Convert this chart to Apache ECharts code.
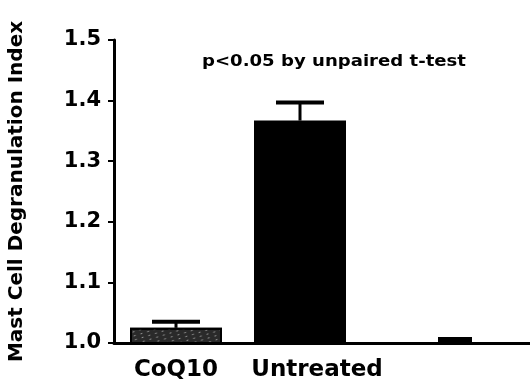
<!DOCTYPE html>
<html>
<head>
<meta charset="utf-8">
<script src="https://cdn.jsdelivr.net/npm/echarts@6/dist/echarts.min.js"></script>
<style>
  html, body { margin: 0; padding: 0; background: #fff; }
  #chart { width: 530px; height: 387px; }
</style>
</head>
<body>
<div id="chart"></div>
<script>
// Groups on the x axis and their mean degranulation index
const categories = ['CoQ10', 'Untreated', '', ''];
const meanValues = [1.025, 1.367, null, null];
// Upper end of each error bar (mean + SEM)
const errorTops = [1.035, 1.397, null, null];
// Small trailing mark near the axis on the half-band scale
const halfSlots = ['', '', '', '', '', 'x', '', ''];
const trailingValues = [null, null, null, null, null, 1.01, null, null];
const yTicks = { min: 1.0, max: 1.5, step: 0.1 };

const FONT = 'DejaVu Sans';
const chart = echarts.init(document.getElementById('chart'));

chart.setOption({
  animation: false,
  backgroundColor: '#ffffff',
  grid: { left: 114, top: 40, bottom: 44, width: 496, containLabel: false, outerBoundsMode: 'none' },
  xAxis: [
    {
      type: 'category',
      data: categories.map((c, i) => i === 1
        ? { value: c, textStyle: { padding: [0, 0, 0, 34] } }
        : c),
      axisLine: { lineStyle: { color: '#000', width: 3 } },
      axisTick: { alignWithLabel: true, length: 8, interval: 0, lineStyle: { color: '#000', width: 3 } },
      axisLabel: {
        interval: 0, margin: 16, color: '#000', hideOverlap: false,
        fontFamily: FONT, fontWeight: 'bold', fontSize: 23
      },
      splitLine: { show: false }
    },
    {
      type: 'category',
      data: halfSlots,
      position: 'bottom',
      show: false
    }
  ],
  yAxis: {
    type: 'value',
    min: yTicks.min, max: yTicks.max, interval: yTicks.step,
    name: 'Mast Cell Degranulation Index',
    nameLocation: 'middle', nameGap: 87,
    nameTextStyle: { color: '#000', fontFamily: FONT, fontWeight: 'bold', fontSize: 20 },
    axisLine: { show: true, lineStyle: { color: '#000', width: 3 } },
    axisTick: { show: true, length: 6, lineStyle: { color: '#000', width: 2 } },
    axisLabel: {
      color: '#000', fontFamily: FONT, fontWeight: 'bold', fontSize: 21, margin: 13,
      formatter: v => v.toFixed(1)
    },
    splitLine: { show: false }
  },
  series: [
    {
      type: 'bar',
      data: meanValues.map((v, i) => i === 0
        ? { value: v, itemStyle: {
              color: '#2a2a2a', borderColor: '#000', borderWidth: 2,
              decal: { symbol: 'rect', symbolSize: 0.6, color: 'rgba(255,255,255,0.85)',
                       dashArrayX: [[3, 4]], dashArrayY: [1, 3], rotation: -0.3 }
          } }
        : { value: v, itemStyle: { color: '#000' } }),
      barWidth: 92,
      z: 2
    },
    {
      type: 'bar',
      xAxisIndex: 1,
      data: trailingValues,
      barWidth: 34,
      barCategoryGap: 0,
      itemStyle: { color: '#000' },
      z: 2
    },
    {
      type: 'custom',
      data: errorTops.map((t, i) => [i, meanValues[i], t]),
      renderItem: function (params, api) {
        if (api.value(2) == null || isNaN(api.value(2))) return null;
        const base = api.coord([api.value(0), api.value(1)]);
        const top = api.coord([api.value(0), api.value(2)]);
        const half = 24;
        return {
          type: 'group',
          children: [
            { type: 'line', shape: { x1: base[0], y1: base[1], x2: top[0], y2: top[1] },
              style: { stroke: '#000', lineWidth: 3 } },
            { type: 'line', shape: { x1: top[0] - half, y1: top[1], x2: top[0] + half, y2: top[1] },
              style: { stroke: '#000', lineWidth: 4 } }
          ]
        };
      },
      z: 3
    }
  ],
  graphic: [
    {
      type: 'text', x: 202, y: 54, scaleX: 1.13,
      style: {
        text: 'p<0.05 by unpaired t-test',
        fill: '#000', font: 'bold 16px "DejaVu Sans"'
      }
    }
  ]
});
</script>
</body>
</html>
